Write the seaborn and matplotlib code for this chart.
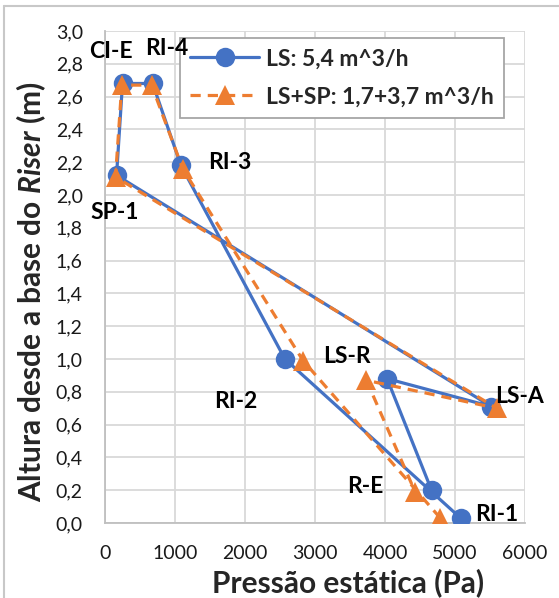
import matplotlib
matplotlib.use("Agg")
import matplotlib.pyplot as plt
import seaborn as sns
import pandas as pd
from matplotlib.lines import Line2D

# ---- data ----
labels = ["RI-1", "RI-2", "RI-3", "RI-4", "CI-E", "SP-1", "LS-A", "LS-R", "R-E"]
ls_pressure = [5080, 2570, 1085, 680, 250, 165, 5520, 4030, 4665]
ls_height = [0.03, 1.00, 2.18, 2.68, 2.68, 2.12, 0.71, 0.88, 0.20]
lssp_pressure = [4790, 2830, 1110, 665, 240, 150, 5595, 3735, 4430]
lssp_height = [0.03, 0.99, 2.16, 2.67, 2.67, 2.11, 0.70, 0.87, 0.19]
series_names = ["LS: 5,4 m^3/h", "LS+SP: 1,7+3,7 m^3/h"]
x_ticks = [0, 1000, 2000, 3000, 4000, 5000, 6000]
y_ticks = [0.0, 0.2, 0.4, 0.6, 0.8, 1.0, 1.2, 1.4, 1.6, 1.8, 2.0, 2.2, 2.4, 2.6, 2.8, 3.0]
# label offsets (pixels) relative to the LS points
label_offsets = [(36, 4), (-49, -43), (49, 3), (14, 35), (-12, 32), (-2, -37), (28, 10), (-40, 22), (-66, 4)]

sns.set_theme(style="white")
plt.rcParams["font.family"] = ["Lato", "DejaVu Sans"]
plt.rcParams["mathtext.fontset"] = "custom"
plt.rcParams["mathtext.it"] = "Lato:italic:bold"
plt.rcParams["mathtext.rm"] = "Lato:bold"
plt.rcParams["mathtext.bf"] = "Lato:bold"

BLUE = "#4472C4"
ORANGE = "#ED7D31"

W, H = 559, 598
fig = plt.figure(figsize=(W / 100, H / 100), dpi=100)
ax = fig.add_axes([105 / W, 1 - 523 / H, 420 / W, 492 / H])

df_ls = pd.DataFrame({"p": ls_pressure, "h": ls_height})
df_sp = pd.DataFrame({"p": lssp_pressure, "h": lssp_height})

sns.lineplot(data=df_ls, x="p", y="h", sort=False, estimator=None, ax=ax,
             color=BLUE, marker="o", markersize=14, markeredgewidth=0,
             linewidth=2.3, zorder=3)
sns.lineplot(data=df_sp, x="p", y="h", sort=False, estimator=None, ax=ax,
             color=ORANGE, marker="^", markersize=14, markeredgewidth=0,
             linewidth=2.3, linestyle=(0, (3.2, 2.2)), zorder=4)

for lab, px, py, (dx, dy) in zip(labels, ls_pressure, ls_height, label_offsets):
    ax.annotate(lab, (px, py), xytext=(dx, dy), textcoords="offset pixels",
                ha="center", va="center", fontsize=16.5, fontweight="bold",
                color="black", zorder=20, annotation_clip=False)

ax.set_xlim(0, 6000)
ax.set_ylim(0, 3.0)
ax.set_xticks(x_ticks)
ax.set_xticklabels([str(t) for t in x_ticks])
ax.set_yticks(y_ticks)
ax.set_yticklabels([f"{t:.1f}".replace(".", ",") for t in y_ticks])
ax.tick_params(axis="both", length=0, labelsize=14, colors="#1a1a1a")
ax.tick_params(axis="y", pad=16)
ax.tick_params(axis="x", pad=16)

ax.grid(True, color="#d9d9d9", linewidth=1.3)
ax.set_axisbelow(True)
for s in ["top", "right"]:
    ax.spines[s].set_visible(False)
for s in ["left", "bottom"]:
    ax.spines[s].set_color("#bfbfbf")
    ax.spines[s].set_linewidth(1.3)

ax.set_xlabel("Pressão estática (Pa)", fontsize=21.5, fontweight="bold")
ax.xaxis.set_label_coords((348 - 105) / 420, (523 - 583) / 492)
ax.xaxis.label.set_va("center")
ax.set_ylabel(r"Altura desde a base do $\mathit{Riser}$ (m)", fontsize=21.5, fontweight="bold")
ax.yaxis.set_label_coords((31 - 105) / 420, (523 - 292) / 492)
ax.yaxis.label.set_va("center")

handles = [
    Line2D([], [], color=BLUE, marker="o", markersize=14, markeredgewidth=0, linewidth=2.3),
    Line2D([], [], color=ORANGE, marker="^", markersize=14, markeredgewidth=0, linewidth=2.3,
           linestyle=(0, (3.2, 2.2))),
]
leg = ax.legend(handles, series_names, loc="upper left",
                bbox_to_anchor=((180 - 105) / 420, (523 - 38) / 492),
                borderaxespad=0, frameon=True, fancybox=False, framealpha=1,
                edgecolor="#a6a6a6", prop={"weight": "bold", "size": 16.5},
                handlelength=3.0, labelspacing=0.75, handletextpad=0.3,
                borderpad=0.45)
leg.get_frame().set_linewidth(1.3)
leg.set_zorder(10)

# outer chart-area border (top and left visible)
fig.add_artist(Line2D([4 / W, 4 / W], [0, 1 - 6 / H], color="#c8c8c8", linewidth=1.5,
                      transform=fig.transFigure))
fig.add_artist(Line2D([4 / W, 1], [1 - 6 / H, 1 - 6 / H], color="#c8c8c8", linewidth=1.5,
                      transform=fig.transFigure))

fig.savefig("out.png", dpi=100)
